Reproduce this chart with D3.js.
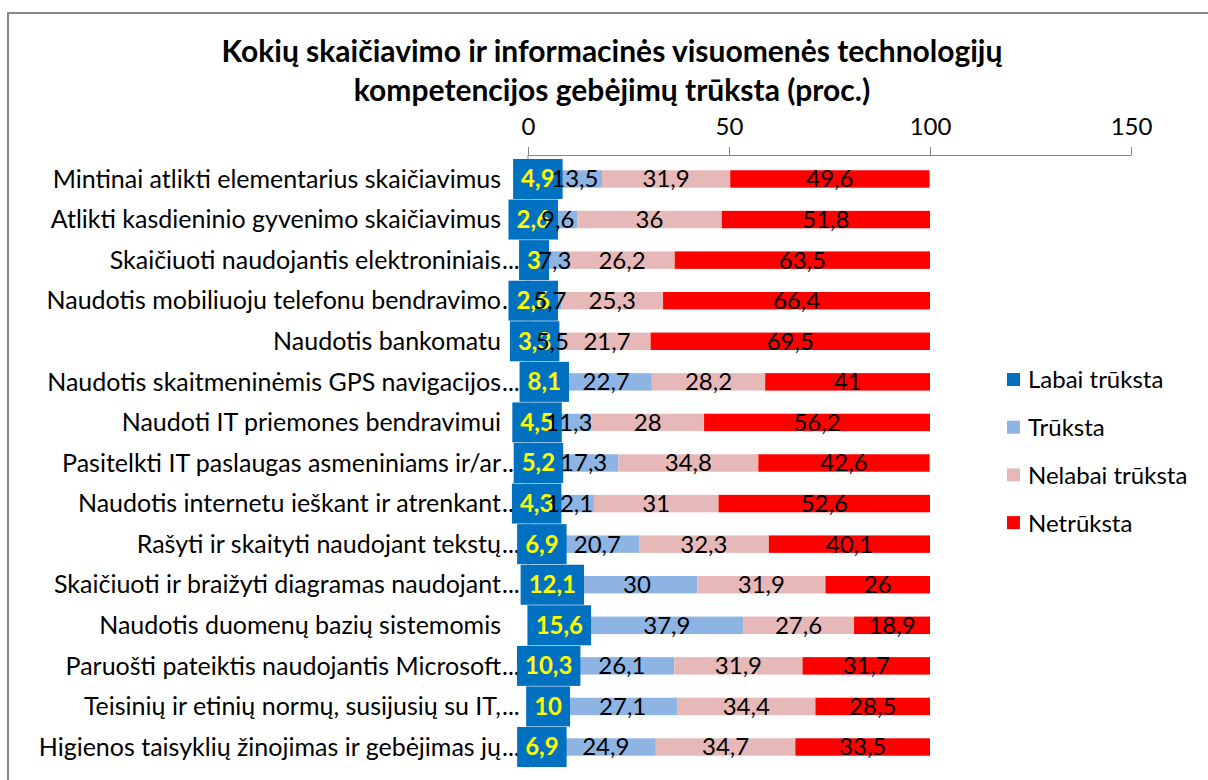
<!DOCTYPE html>
<html>
<head>
<meta charset="utf-8">
<script src="https://cdn.jsdelivr.net/npm/d3@7"></script>
<style>
  body { margin: 0; background: #fff; }
  svg text { font-family: Lato, "Open Sans", sans-serif; }
</style>
</head>
<body>
<svg id="chart" width="1208" height="780"></svg>
<script>
// categories (top to bottom); "..." marks labels Excel cut short
var categories = [
    'Mintinai atlikti elementarius skaičiavimus',
    'Atlikti kasdieninio gyvenimo skaičiavimus',
    'Skaičiuoti naudojantis elektroniniais...',
    'Naudotis mobiliuoju telefonu bendravimo...',
    'Naudotis bankomatu',
    'Naudotis skaitmeninėmis GPS navigacijos...',
    'Naudoti IT priemones bendravimui',
    'Pasitelkti IT paslaugas asmeniniams ir/ar...',
    'Naudotis internetu ieškant ir atrenkant...',
    'Rašyti ir skaityti naudojant tekstų...',
    'Skaičiuoti ir braižyti diagramas naudojant...',
    'Naudotis duomenų bazių sistemomis',
    'Paruošti pateiktis naudojantis Microsoft...',
    'Teisinių ir etinių normų, susijusių su IT,...',
    'Higienos taisyklių žinojimas ir gebėjimas jų...'
];
var seriesNames = ['Labai trūksta', 'Trūksta', 'Nelabai trūksta', 'Netrūksta'];
var seriesColors = ['#0070c0', '#8eb4e3', '#e6b9b8', '#ff0000'];
var labaiTruksta = [4.9, 2.6, 3, 2.6, 3.3, 8.1, 4.5, 5.2, 4.3, 6.9, 12.1, 15.6, 10.3, 10, 6.9];
var truksta = [13.5, 9.6, 7.3, 5.7, 5.5, 22.7, 11.3, 17.3, 12.1, 20.7, 30, 37.9, 26.1, 27.1, 24.9];
var nelabaiTruksta = [31.9, 36, 26.2, 25.3, 21.7, 28.2, 28, 34.8, 31, 32.3, 31.9, 27.6, 31.9, 34.4, 34.7];
var netruksta = [49.6, 51.8, 63.5, 66.4, 69.5, 41, 56.2, 42.6, 52.6, 40.1, 26, 18.9, 31.7, 28.5, 33.5];
var xTicks = [0, 50, 100, 150];
var titleLines = ['Kokių skaičiavimo ir informacinės visuomenės technologijų',
    'kompetencijos gebėjimų trūksta (proc.)'];

var seriesValues = [labaiTruksta, truksta, nelabaiTruksta, netruksta];
var rows = categories.map(function (c, i) {
    var row = { name: c };
    seriesNames.forEach(function (s, j) { row[s] = seriesValues[j][i]; });
    return row;
});
var stacked = d3.stack().keys(seriesNames)(rows);

var svg = d3.select('#chart');
var fmt = function (v) { return String(v).replace('.', ','); };

// outer frame (runs off the right and bottom edges)
svg.append('rect')
    .attr('x', 8).attr('y', 13).attr('width', 1210).attr('height', 790)
    .attr('fill', 'none').attr('stroke', '#888').attr('stroke-width', 2);

// title
svg.selectAll('text.title')
    .data(titleLines)
    .enter().append('text')
    .attr('class', 'title')
    .attr('x', 612)
    .attr('y', function (d, i) { return 62 + i * 39; })
    .attr('text-anchor', 'middle')
    .attr('font-size', 30)
    .attr('font-weight', 'bold')
    .text(function (d) { return d; });

var x = d3.scaleLinear().domain([0, 150]).range([528, 1131]);
var y = d3.scaleBand().domain(categories).range([158.7, 767.3])
    .paddingInner(0.57).paddingOuter(0.285);

// top value axis
var axis = svg.append('g')
    .attr('transform', 'translate(0,155)')
    .call(d3.axisTop(x).tickValues(xTicks).tickSizeInner(8).tickSizeOuter(0).tickPadding(12));
axis.select('.domain').attr('stroke', '#868686');
axis.selectAll('.tick line').attr('stroke', '#868686');
axis.selectAll('.tick text')
    .attr('font-size', 24).attr('fill', '#000')
    .style('font-family', 'Lato, sans-serif');

// category axis line at 0
svg.append('line')
    .attr('x1', x(0)).attr('x2', x(0))
    .attr('y1', 155).attr('y2', 768)
    .attr('stroke', '#868686');

// bars
var layers = svg.selectAll('g.layer')
    .data(stacked)
    .enter().append('g')
    .attr('class', 'layer')
    .attr('fill', function (d, i) { return seriesColors[i]; });

layers.selectAll('rect')
    .data(function (d) { return d; })
    .enter().append('rect')
    .attr('x', function (d) { return x(d[0]); })
    .attr('y', function (d) { return y(d.data.name); })
    .attr('width', function (d) { return x(d[1]) - x(d[0]); })
    .attr('height', y.bandwidth());

// category labels, the trailing dots hang past the text end
var catG = svg.append('g');
categories.forEach(function (c) {
    var cut = c.slice(-3) === '...';
    var cy = y(c) + y.bandwidth() / 2;
    catG.append('text')
        .attr('x', 501).attr('y', cy).attr('dy', '0.35em')
        .attr('text-anchor', 'end').attr('font-size', 25)
        .text(cut ? c.slice(0, -3) : c);
    if (cut) {
        catG.append('text')
            .attr('x', 502).attr('y', cy).attr('dy', '0.35em')
            .attr('font-size', 25)
            .text('...');
    }
});

// first series labels: yellow bold on filled dark blue boxes
var boxG = svg.append('g');
stacked[0].forEach(function (d) {
    var cx = (x(d[0]) + x(d[1])) / 2;
    var cy = y(d.data.name) + y.bandwidth() / 2;
    var box = boxG.append('rect').attr('fill', seriesColors[0]);
    var t = boxG.append('text')
        .attr('x', cx).attr('y', cy).attr('dy', '0.35em')
        .attr('text-anchor', 'middle')
        .attr('font-size', 24).attr('font-weight', 'bold')
        .attr('fill', '#ffff00')
        .text(fmt(d[1] - d[0]));
    var w = t.node().getComputedTextLength() + 16;
    box.attr('x', cx - w / 2).attr('y', cy - 20).attr('width', w).attr('height', 40);
});

// the other series labels, black, centred in their segment
stacked.slice(1).forEach(function (layer) {
    svg.append('g').selectAll('text')
        .data(layer)
        .enter().append('text')
        .attr('x', function (d) { return (x(d[0]) + x(d[1])) / 2; })
        .attr('y', function (d) { return y(d.data.name) + y.bandwidth() / 2; })
        .attr('dy', '0.35em')
        .attr('text-anchor', 'middle')
        .attr('font-size', 24)
        .text(function (d) { return fmt(Math.round((d[1] - d[0]) * 10) / 10); });
});

// legend
var legend = svg.selectAll('g.legend')
    .data(seriesNames)
    .enter().append('g')
    .attr('class', 'legend')
    .attr('transform', function (d, i) { return 'translate(1007,' + (380 + i * 47.7) + ')'; });
legend.append('rect')
    .attr('x', 0).attr('y', -7).attr('width', 13).attr('height', 13)
    .attr('fill', function (d, i) { return seriesColors[i]; });
legend.append('text')
    .attr('x', 21).attr('dy', '0.35em')
    .attr('font-size', 24)
    .text(function (d) { return d; });
</script>
</body>
</html>
